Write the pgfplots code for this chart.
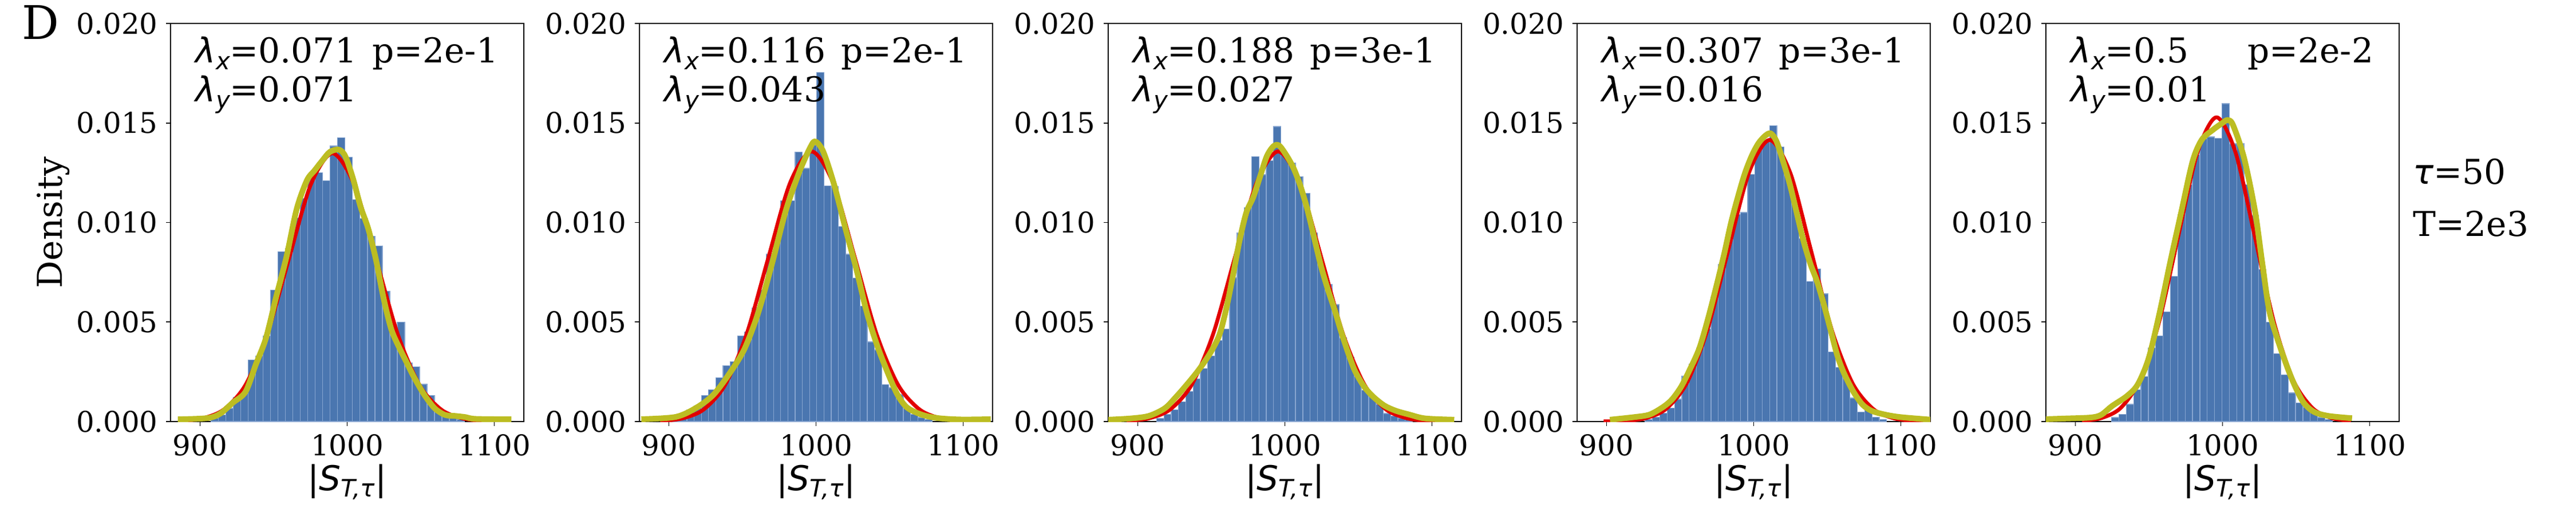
\documentclass[border=0pt]{standalone}
\usepackage{fontspec}
\setmainfont{DejaVu Serif}
\newfontfamily\dvs{DejaVu Sans}
\newfontfamily\dvsi{DejaVu Sans Oblique}
\usepackage{pgfplots}
\pgfplotsset{compat=1.18}

\definecolor{barblue}{RGB}{74,118,176}
\definecolor{baredge}{RGB}{135,165,208}
\definecolor{kred}{RGB}{226,0,0}
\definecolor{kolive}{RGB}{188,189,34}

\newcommand{\fs}{\fontsize{14.4}{17}\selectfont}
\newcommand{\sub}[1]{\raisebox{-0.2em}{\fontsize{10.1}{11}\selectfont\dvsi #1}}
\newcommand{\lam}[1]{{\dvsi λ}\sub{#1}}

\pgfplotsset{
  panel/.style={
    scale only axis, width=148.08bp, height=166.8bp, anchor=south west,
    xmin=880, xmax=1120, ymin=0, ymax=0.020,
    xtick={900,1000,1100}, ytick={0,0.005,0.010,0.015,0.020},
    scaled y ticks=false,
    yticklabel style={/pgf/number format/.cd, fixed, fixed zerofill, precision=3},
    xticklabel style={/pgf/number format/1000 sep={}},
    tick align=outside, tick pos=left, major tick length=1.85bp,
    axis line style={line width=0.4bp},
    every tick/.style={black, line width=0.4bp},
    tick label style={font=\fontsize{12}{14}\selectfont},
    /pgf/number format/assume math mode=true,
  },
  bars/.style={ybar interval, fill=barblue, draw=baredge, line width=0.3bp},
  fitline/.style={kred, line width=1.6bp, smooth, line join=round},
  kdeline/.style={kolive, line width=2.4bp, smooth, line join=round},
}

\begin{document}
\begin{tikzpicture}
\useasboundingbox (0,0) rectangle (1080bp,216bp);

% panel 1
\begin{axis}[panel, at={(71.52bp,39.36bp)}]
\addplot[bars] coordinates {
(907.50,0.00017) (912.56,0.00033) (917.62,0.00066) (922.68,0.00121) (927.74,0.00154)
(932.80,0.0031) (937.86,0.0033) (942.92,0.0043) (947.98,0.0066) (953.04,0.00853)
(958.10,0.0087) (963.16,0.01024) (968.22,0.0112) (973.28,0.0123) (978.34,0.0125)
(983.40,0.01211) (988.46,0.01384) (993.52,0.01426) (998.58,0.01327) (1003.64,0.01116)
(1008.70,0.0102) (1013.76,0.0093) (1018.82,0.00882) (1023.88,0.00655) (1028.94,0.00445)
(1034.00,0.00499) (1039.06,0.00295) (1044.12,0.00274) (1049.18,0.00187) (1054.24,0.00132)
(1059.30,0.00066) (1064.36,0.00033) (1069.42,0.0002) (1074.48,0.0001) (1079.54,0)
};
\addplot[fitline] coordinates {
(886.4,0.0000295) (901.2,0.000150) (916.0,0.000592) (930.8,0.001824) (945.6,0.004375)
(960.4,0.008174) (975.2,0.011893) (990.0,0.013476) (1004.8,0.011893) (1019.6,0.008174)
(1034.4,0.004375) (1049.2,0.001824) (1064.0,0.000592) (1078.8,0.000150) (1093.6,0.0000295)
(1108.4,0.0000045)
};
\addplot[kdeline] coordinates {
(884.9,0.00011) (904.9,0.00017) (913.6,0.00039) (922.2,0.00094) (930.9,0.00149)
(937.9,0.00286) (944.8,0.00419) (951.8,0.00628) (958.7,0.00826) (965.7,0.01068)
(972.6,0.01211) (977.8,0.01261) (983.1,0.01311) (988.3,0.01355) (994.4,0.01366)
(998.7,0.01333) (1003.9,0.01222) (1009.1,0.01079) (1014.3,0.00969) (1019.5,0.00815)
(1024.8,0.00617) (1030.0,0.00463) (1035.2,0.00374) (1040.4,0.00297) (1045.6,0.0022)
(1052.6,0.00132) (1059.5,0.00066) (1066.5,0.00033) (1073.4,0.00028) (1080.4,0.00022)
(1087.3,0.00013) (1111.6,0.00011)
};
\node[anchor=base west] at (axis description cs:0.047,0.902) {\fs\lam{x}=0.071};
\node[anchor=base west] at (axis description cs:0.047,0.803) {\fs\lam{y}=0.071};
\node[anchor=base east] at (axis description cs:0.951,0.902) {\fs p=2e-1};
\end{axis}

% panel 2
\begin{axis}[panel, at={(268.08bp,39.36bp)}]
\addplot[bars] coordinates {
(902.5,0.0002) (907.4,0.0003) (912.3,0.0006) (917.2,0.0008) (922.1,0.0013)
(927.0,0.0016) (931.9,0.0022) (936.8,0.0028) (941.7,0.0030) (946.6,0.0043)
(951.5,0.0045) (956.4,0.0057) (961.3,0.0066) (966.2,0.0084) (971.1,0.0092)
(976.0,0.0111) (980.9,0.0111) (985.8,0.01355) (990.7,0.01272) (995.6,0.0139)
(1000.5,0.01754) (1005.4,0.01184) (1010.3,0.0118) (1015.2,0.0098) (1020.1,0.0084)
(1025.0,0.0072) (1029.9,0.0058) (1034.8,0.0040) (1039.7,0.0036) (1044.6,0.00185)
(1049.5,0.0017) (1054.4,0.00135) (1059.3,0.0007) (1064.2,0.00036) (1069.1,0.0002)
(1074.0,0.0001) (1078.9,0)
};
\addplot[fitline] coordinates {
(894.1,0.0000297) (908.8,0.000151) (923.5,0.000596) (938.2,0.001836) (952.9,0.004405)
(967.6,0.00823) (982.3,0.011975) (997.0,0.01357) (1011.7,0.011975) (1026.4,0.00823)
(1041.1,0.004405) (1055.8,0.001836) (1070.5,0.000596) (1085.2,0.000151) (1099.9,0.0000297)
(1114.6,0.0000046)
};
\addplot[kdeline] coordinates {
(881.3,0.000116) (904.7,0.000231) (918.7,0.000694) (930.4,0.001355) (942.1,0.002511)
(951.5,0.003667) (960.8,0.005484) (970.2,0.007962) (979.5,0.010605) (988.9,0.012588)
(995.9,0.013744) (999.4,0.014074) (1004.8,0.013579) (1012.2,0.011927) (1020.3,0.009614)
(1027.5,0.007632) (1034.5,0.005484) (1041.5,0.003832) (1048.4,0.002511) (1055.3,0.001355)
(1062.0,0.000694) (1072.4,0.00033) (1083.5,0.000165) (1098.8,0.0001) (1118.7,0.000116)
};
\node[anchor=base west] at (axis description cs:0.047,0.902) {\fs\lam{x}=0.116};
\node[anchor=base west] at (axis description cs:0.047,0.803) {\fs\lam{y}=0.043};
\node[anchor=base east] at (axis description cs:0.951,0.902) {\fs p=2e-1};
\end{axis}

% panel 3
\begin{axis}[panel, at={(464.64bp,39.36bp)}]
\addplot[bars] coordinates {
(912.80,0.00015) (917.77,0.00035) (922.74,0.0006) (927.71,0.001) (932.68,0.0015)
(937.65,0.00215) (942.62,0.00266) (947.59,0.0033) (952.56,0.00407) (957.53,0.00465)
(962.50,0.00722) (967.47,0.00947) (972.44,0.01075) (977.41,0.0133) (982.38,0.0124)
(987.35,0.0131) (992.32,0.01482) (997.29,0.01339) (1002.26,0.0130) (1007.23,0.0123)
(1012.20,0.01146) (1017.17,0.00947) (1022.14,0.00786) (1027.11,0.0069) (1032.08,0.00587)
(1037.05,0.0042) (1042.02,0.00324) (1046.99,0.00227) (1051.96,0.00157) (1056.93,0.00125)
(1061.90,0.00086) (1066.87,0.0004) (1071.84,0.00028) (1076.81,0.00015) (1081.78,0.0001)
(1086.75,0)
};
\addplot[fitline] coordinates {
(892.5,0.0000297) (907.2,0.000151) (921.9,0.000596) (936.6,0.001836) (951.3,0.004405)
(966.0,0.00823) (980.7,0.011975) (995.4,0.01357) (1010.1,0.011975) (1024.8,0.00823)
(1039.5,0.004405) (1054.2,0.001836) (1068.9,0.000596) (1083.6,0.000151) (1098.3,0.0000297)
(1113.0,0.0000046)
};
\addplot[kdeline] coordinates {
(880.0,0.00009) (895.4,0.000154) (907.7,0.000283) (918.5,0.000668) (926.2,0.001246)
(933.8,0.001889) (941.5,0.002595) (949.2,0.00343) (955.4,0.00433) (960.0,0.005614)
(964.6,0.007284) (969.2,0.009083) (973.8,0.010496) (978.5,0.011267) (983.1,0.012295)
(987.7,0.013322) (992.3,0.013836) (996.2,0.013862) (1001.5,0.013322) (1006.2,0.01268)
(1010.8,0.011781) (1015.4,0.010625) (1020.0,0.009211) (1024.6,0.007798) (1029.2,0.006642)
(1033.8,0.005614) (1038.5,0.004458) (1043.1,0.00343) (1047.7,0.002531) (1053.8,0.00176)
(1060.0,0.001246) (1067.7,0.000797) (1075.4,0.00054) (1084.6,0.000347) (1095.4,0.000154)
(1115.1,0.00009)
};
\node[anchor=base west] at (axis description cs:0.047,0.902) {\fs\lam{x}=0.188};
\node[anchor=base west] at (axis description cs:0.047,0.803) {\fs\lam{y}=0.027};
\node[anchor=base east] at (axis description cs:0.951,0.902) {\fs p=3e-1};
\end{axis}

% panel 4
\begin{axis}[panel, at={(661.20bp,39.36bp)}]
\addplot[bars] coordinates {
(926.30,0.0001) (931.27,0.00022) (936.24,0.00041) (941.21,0.00067) (946.18,0.00112)
(951.15,0.00227) (956.12,0.0029) (961.09,0.00369) (966.06,0.00465) (971.03,0.00626)
(976.00,0.0079) (980.97,0.0094) (985.94,0.0104) (990.91,0.0105) (995.88,0.01242)
(1000.85,0.0137) (1005.82,0.0141) (1010.79,0.01486) (1015.76,0.0138) (1020.73,0.01236)
(1025.70,0.01127) (1030.67,0.0092) (1035.64,0.00703) (1040.61,0.00767) (1045.58,0.00642)
(1050.55,0.0035) (1055.52,0.00272) (1060.49,0.00215) (1065.46,0.00118) (1070.43,0.00048)
(1075.40,0.0008) (1080.37,0.00022) (1085.34,0.0001) (1090.31,0)
};
\addplot[fitline] coordinates {
(898.0,0.0000048) (912.1,0.000031) (926.2,0.000157) (940.3,0.000622) (954.4,0.001915)
(968.5,0.004593) (982.6,0.008581) (996.7,0.012485) (1010.8,0.014147) (1024.9,0.012485)
(1039.0,0.008581) (1053.1,0.004593) (1067.2,0.001915) (1081.3,0.000622) (1095.4,0.000157)
(1109.5,0.000031) (1120.0,0.000005)
};
\addplot[kdeline] coordinates {
(902.3,0.00009) (918.5,0.000218) (929.2,0.000347) (938.5,0.000732) (944.6,0.001118)
(950.8,0.00176) (956.9,0.002659) (963.1,0.003687) (969.2,0.005229) (975.4,0.007027)
(980.0,0.00844) (984.6,0.009982) (989.2,0.011267) (993.8,0.012423) (998.5,0.013322)
(1003.1,0.013965) (1007.7,0.01435) (1011.5,0.014478) (1015.4,0.014093) (1020.0,0.013065)
(1024.6,0.011909) (1029.2,0.010496) (1033.8,0.009083) (1038.5,0.007927) (1043.1,0.007027)
(1047.7,0.005871) (1052.3,0.004586) (1056.9,0.003302) (1061.5,0.002402) (1067.7,0.001503)
(1073.8,0.000861) (1080.0,0.00054) (1089.2,0.000347) (1100.0,0.000218) (1120.8,0.00009)
};
\node[anchor=base west] at (axis description cs:0.047,0.902) {\fs\lam{x}=0.307};
\node[anchor=base west] at (axis description cs:0.047,0.803) {\fs\lam{y}=0.016};
\node[anchor=base east] at (axis description cs:0.951,0.902) {\fs p=3e-1};
\end{axis}

% panel 5
\begin{axis}[panel, at={(857.76bp,39.36bp)}]
\addplot[bars] coordinates {
(924.6,0.0002) (929.6,0.00036) (934.6,0.00086) (939.6,0.0016) (944.6,0.00226)
(949.6,0.0037) (954.6,0.0043) (959.6,0.0055) (964.6,0.0073) (969.6,0.0104)
(974.6,0.0119) (979.6,0.0134) (984.6,0.0142) (989.6,0.0143) (994.6,0.01424)
(999.6,0.01597) (1004.6,0.01396) (1009.6,0.01396) (1014.6,0.0119) (1019.6,0.01036)
(1024.6,0.00763) (1029.6,0.005) (1034.6,0.00342) (1039.6,0.00235) (1044.6,0.00144)
(1049.6,0.00094) (1054.6,0.0007) (1059.6,0.00045) (1064.6,0.0002) (1069.6,0.0001)
(1074.6,0)
};
\addplot[fitline] coordinates {
(904.55,0.0000334) (917.6,0.00017) (930.65,0.000672) (943.7,0.002069) (956.75,0.004962)
(969.8,0.009271) (982.85,0.013489) (995.9,0.015285) (1008.95,0.013489) (1022.0,0.009271)
(1035.05,0.004962) (1048.1,0.002069) (1061.15,0.000672) (1074.2,0.00017) (1087.25,0.0000334)
};
\addplot[kdeline] coordinates {
(879.3,0.000116) (892.5,0.000149) (910.0,0.000198) (917.4,0.00033) (924.9,0.000776)
(934.9,0.001272) (942.3,0.00185) (949.8,0.003172) (957.3,0.005484) (964.8,0.008127)
(972.2,0.010605) (979.7,0.013083) (985.9,0.014157) (993.4,0.014653) (999.6,0.014983)
(1003.4,0.015148) (1007.1,0.0149) (1014.6,0.013248) (1022.0,0.010605) (1027.0,0.007962)
(1032.0,0.005484) (1039.5,0.003667) (1046.9,0.002181) (1054.4,0.001024) (1061.9,0.000496)
(1071.9,0.000281) (1088.0,0.000165)
};
\node[anchor=base west] at (axis description cs:0.047,0.902) {\fs\lam{x}=0.5};
\node[anchor=base west] at (axis description cs:0.047,0.803) {\fs\lam{y}=0.01};
\node[anchor=base east] at (axis description cs:0.951,0.902) {\fs p=2e-2};
\end{axis}

% labels outside the axes
\node[anchor=base west, inner sep=0pt] at (9.12bp,199.44bp) {\fontsize{19.5}{22}\selectfont D};
\node[rotate=90, anchor=base, inner sep=0pt] at (26.16bp,122.76bp) {\fs Density};
\foreach \cx in {145.56,342.12,538.68,735.24,931.80}{
  \node[anchor=base, inner sep=0pt] at (\cx bp,10.56bp) {\fs{\dvs|}{\dvsi S}\sub{T,τ}{\dvs|}};
}
\node[anchor=base west, inner sep=0pt] at (1011.6bp,138.72bp) {\fs{\dvsi τ}=50};
\node[anchor=base west, inner sep=0pt] at (1011.6bp,116.88bp) {\fs T=2e3};
\end{tikzpicture}
\end{document}
